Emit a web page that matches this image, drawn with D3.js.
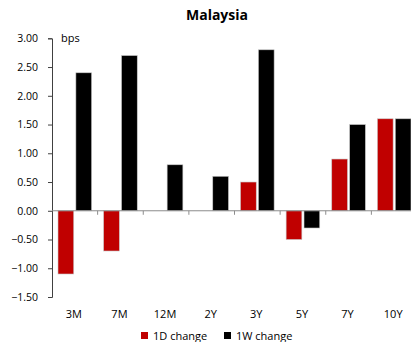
<!DOCTYPE html>
<html>
<head>
<meta charset="utf-8">
<script src="https://cdn.jsdelivr.net/npm/d3@7"></script>
<style>
  html, body { margin: 0; padding: 0; background: #fff; }
  svg { display: block; font-family: "Open Sans", "DejaVu Sans", sans-serif; }
</style>
</head>
<body>
<svg id="chart" width="411" height="342"></svg>
<script>
// Malaysia yield curve moves, in basis points
const tenors = ["3M", "7M", "12M", "2Y", "3Y", "5Y", "7Y", "10Y"];
const change1D = [-1.1, -0.7, 0, 0, 0.5, -0.5, 0.9, 1.6];
const change1W = [2.4, 2.7, 0.8, 0.6, 2.8, -0.3, 1.5, 1.6];
const seriesNames = ["1D change", "1W change"];
const seriesColors = ["#C00000", "#000000"];
const yTicks = [-1.5, -1.0, -0.5, 0, 0.5, 1.0, 1.5, 2.0, 2.5, 3.0];

const svg = d3.select("#chart");
const plotLeft = 52, plotRight = 417, plotTop = 38.3, plotBottom = 297;

const x = d3.scaleBand().domain(tenors).range([plotLeft, plotRight]).paddingInner(0).paddingOuter(0);
const xSeries = d3.scaleBand().domain(seriesNames).range([6, x.bandwidth() - 6]).paddingInner(0.12);
const y = d3.scaleLinear().domain([-1.5, 3.0]).range([plotBottom, plotTop]);

// Title
svg.append("text")
  .attr("x", 217).attr("y", 20)
  .attr("text-anchor", "middle")
  .attr("font-size", 14).attr("font-weight", "bold")
  .attr("fill", "#000")
  .text("Malaysia");

// Bars (zero moves are left undrawn)
const rows = tenors.map((t, i) => ({ tenor: t, values: [change1D[i], change1W[i]] }));
const groups = svg.append("g").selectAll("g").data(rows).join("g")
  .attr("transform", d => `translate(${x(d.tenor)},0)`);
groups.selectAll("rect")
  .data(d => d.values.map((v, k) => ({ v, k })).filter(e => e.v !== 0))
  .join("rect")
  .attr("x", d => xSeries(seriesNames[d.k]))
  .attr("width", xSeries.bandwidth())
  .attr("y", d => y(Math.max(0, d.v)))
  .attr("height", d => Math.abs(y(d.v) - y(0)))
  .attr("fill", d => seriesColors[d.k])
  .attr("stroke", "#c8c8c8")
  .attr("stroke-width", 0.6);

// Y axis
const yAxis = d3.axisLeft(y).tickValues(yTicks).tickSize(4).tickPadding(10)
  .tickFormat(d3.format(".2f"));
const gy = svg.append("g").attr("transform", `translate(${plotLeft},0)`).call(yAxis);
gy.select(".domain").attr("stroke", "#404040");
gy.selectAll(".tick line").attr("stroke", "#404040");
gy.selectAll(".tick text").attr("font-size", 10.5).attr("fill", "#000")
  .attr("font-family", "\"Open Sans\", sans-serif");

// Zero line with category dividers
const gx = svg.append("g").attr("transform", `translate(0,${y(0)})`);
gx.append("line").attr("x1", plotLeft).attr("x2", plotRight).attr("stroke", "#8c8c8c").attr("stroke-width", 1);
gx.selectAll("line.div").data(tenors.slice(1)).join("line")
  .attr("class", "div")
  .attr("x1", d => x(d)).attr("x2", d => x(d))
  .attr("y1", 0).attr("y2", 4)
  .attr("stroke", "#8c8c8c");

// Category labels along the bottom
svg.append("g").selectAll("text").data(tenors).join("text")
  .attr("x", d => x(d) + x.bandwidth() / 2 - 1)
  .attr("y", 318)
  .attr("text-anchor", "middle")
  .attr("font-size", 11)
  .attr("fill", "#000")
  .text(d => d);

// Unit label
svg.append("text").attr("x", 61).attr("y", 42)
  .attr("font-size", 11).attr("fill", "#000").text("bps");

// Legend
const legendX = [141, 224];
const lg = svg.append("g").selectAll("g").data(seriesNames).join("g")
  .attr("transform", (d, i) => `translate(${legendX[i]},332)`);
lg.append("rect").attr("width", 7).attr("height", 7)
  .attr("fill", (d, i) => seriesColors[i]);
lg.append("text").attr("x", 12).attr("y", 8)
  .attr("font-size", 11).attr("fill", "#000").text(d => d);
</script>
</body>
</html>
